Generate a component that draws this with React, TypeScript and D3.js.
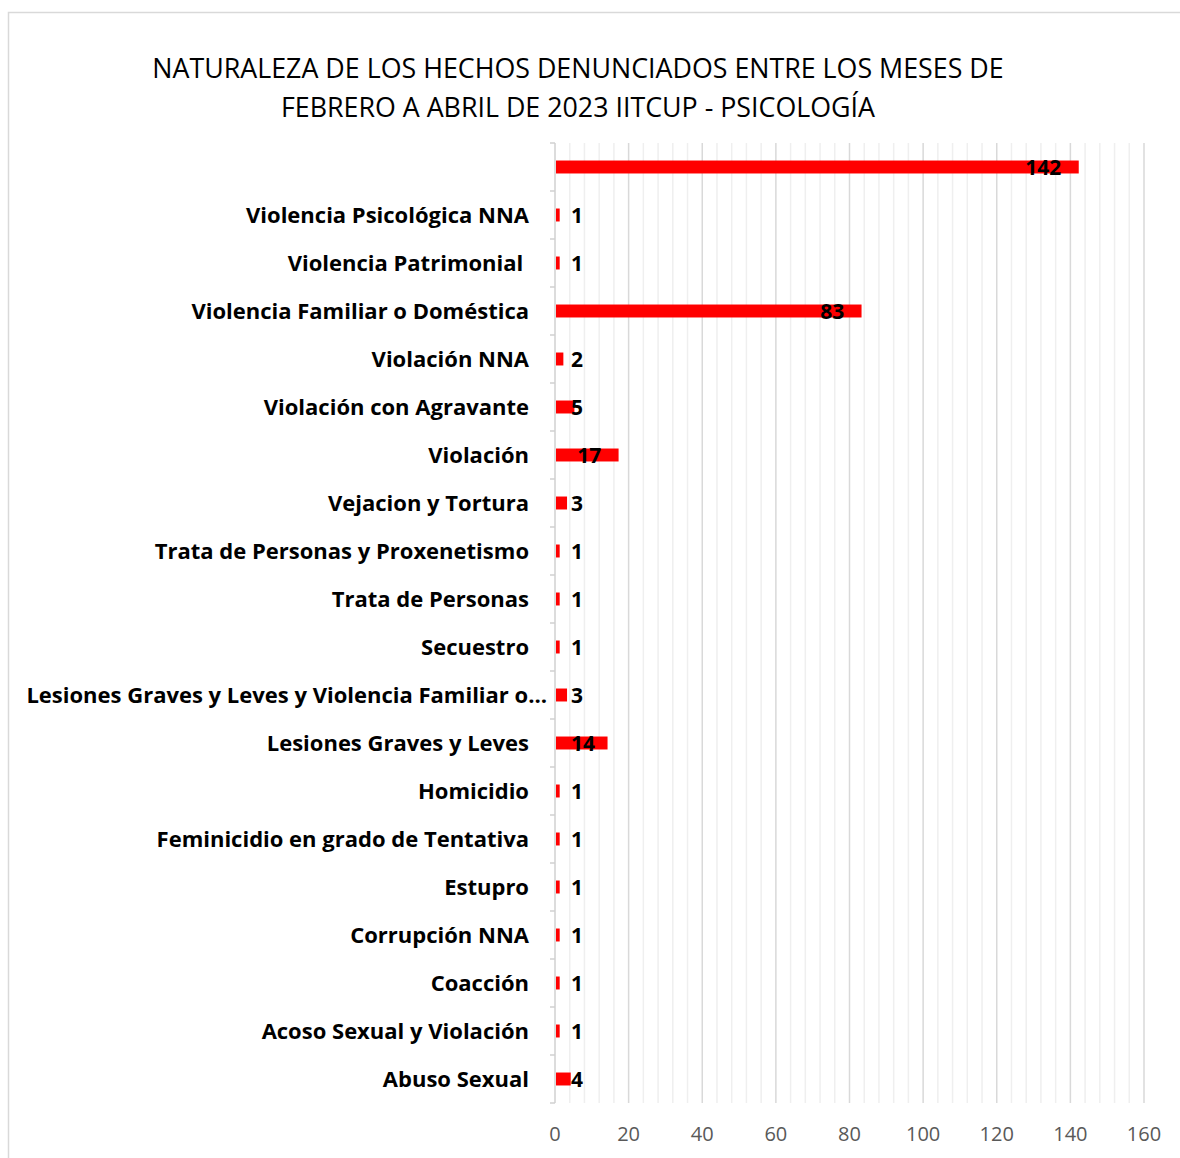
import React from "react";
import * as d3 from "d3";

const titleLines = [
  "NATURALEZA DE LOS HECHOS DENUNCIADOS ENTRE LOS MESES DE",
  "FEBRERO A ABRIL DE 2023 IITCUP - PSICOLOGÍA",
];

const categories = [
  "",
  "Violencia Psicológica NNA",
  "Violencia Patrimonial ",
  "Violencia Familiar o Doméstica",
  "Violación NNA",
  "Violación con Agravante",
  "Violación",
  "Vejacion y Tortura",
  "Trata de Personas y Proxenetismo",
  "Trata de Personas",
  "Secuestro",
  "Lesiones Graves y Leves y Violencia Familiar o…",
  "Lesiones Graves y Leves",
  "Homicidio",
  "Feminicidio en grado de Tentativa",
  "Estupro",
  "Corrupción NNA",
  "Coacción",
  "Acoso Sexual y Violación",
  "Abuso Sexual",
];

const values = [142, 1, 1, 83, 2, 5, 17, 3, 1, 1, 1, 3, 14, 1, 1, 1, 1, 1, 1, 4];

const xTicks = [0, 20, 40, 60, 80, 100, 120, 140, 160];
const minorStep = 4;

const W = 1180;
const H = 1158;

export default function App() {
  const x = d3.scaleLinear().domain([0, 160]).range([555, 1144]);
  const keys = d3.range(categories.length).map(String);
  const y = d3
    .scaleBand<string>()
    .domain(keys)
    .range([143, 1103])
    .paddingInner(0.73)
    .paddingOuter(0.365);
  const step = y.step();
  const top = 143;
  const bottom = 1103;
  const minor = d3.range(0, 160 + 0.001, minorStep).filter((v) => v % 20 !== 0);
  const boundaries = d3.range(categories.length + 1).map((i) => top + i * step);
  const font = "'Open Sans', 'Noto Sans', sans-serif";
  const digitW = 12.2;

  return (
    <svg
      width={W}
      height={H}
      style={{ position: "absolute", left: 0, top: 0, background: "#fff" }}
      fontFamily={font}
    >
      <rect x={0} y={0} width={W} height={H} fill="#fff" />
      <rect x={8.5} y={12.5} width={W + 10} height={H + 10} fill="none" stroke="#d9d9d9" strokeWidth={1.5} />

      {titleLines.map((t, i) => (
        <text
          key={i}
          x={578}
          y={78 + i * 39}
          textAnchor="middle"
          fontSize={26.8}
          fill="#000"
        >
          {t}
        </text>
      ))}

      {/* minor gridlines */}
      {minor.map((v) => (
        <line key={"m" + v} x1={x(v)} x2={x(v)} y1={top} y2={bottom} stroke="#efefef" strokeWidth={1.5} />
      ))}
      {/* major gridlines */}
      {xTicks.filter((v) => v !== 0).map((v) => (
        <line key={"M" + v} x1={x(v)} x2={x(v)} y1={top} y2={bottom} stroke="#d9d9d9" strokeWidth={1.5} />
      ))}

      {/* left axis */}
      <line x1={x(0)} x2={x(0)} y1={top} y2={bottom} stroke="#d0d0d0" strokeWidth={1.5} />
      {boundaries.map((b, i) => (
        <line key={"t" + i} x1={x(0) - 5} x2={x(0)} y1={b} y2={b} stroke="#d0d0d0" strokeWidth={1.5} />
      ))}

      {/* bars */}
      {values.map((v, i) => (
        <rect
          key={"b" + i}
          x={x(0) + 1}
          y={y(String(i))!}
          width={x(v) - x(0)}
          height={y.bandwidth()}
          fill="#ff0000"
        />
      ))}

      {/* data labels */}
      {values.map((v, i) => {
        const w = String(v).length * digitW;
        const left = Math.max(x(0) + 16, x(v) - 16 - w);
        return (
          <text
            key={"d" + i}
            x={left}
            y={y(String(i))! + y.bandwidth() / 2}
            dy="0.36em"
            fontSize={21}
            fontWeight={700}
            fill="#000"
          >
            {v}
          </text>
        );
      })}

      {/* category labels */}
      {categories.map((c, i) => (
        <text
          key={"c" + i}
          x={c.endsWith("…") ? x(0) - 8 : x(0) - 26}
          y={y(String(i))! + y.bandwidth() / 2}
          dy="0.36em"
          textAnchor="end"
          fontSize={22}
          fontWeight={700}
          fill="#000"
          style={{ whiteSpace: "pre" }}
        >
          {c}
        </text>
      ))}

      {/* x tick labels */}
      {xTicks.map((v) => (
        <text
          key={"x" + v}
          x={x(v)}
          y={1134}
          dy="0.36em"
          textAnchor="middle"
          fontSize={20}
          fill="#595959"
        >
          {v}
        </text>
      ))}
    </svg>
  );
}
